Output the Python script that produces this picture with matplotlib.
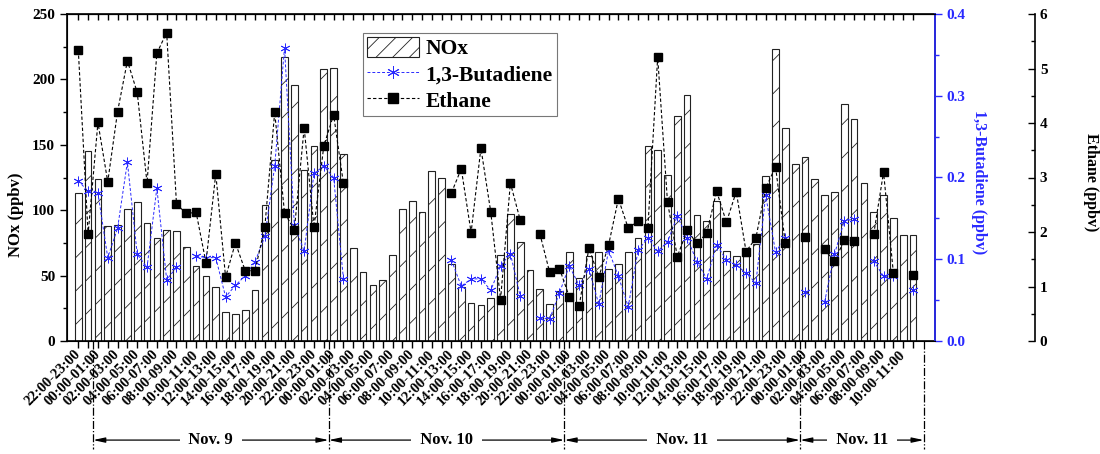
import numpy as np
import matplotlib.pyplot as plt
import matplotlib.transforms as mtransforms
from matplotlib.ticker import MultipleLocator, FormatStrFormatter
from matplotlib.lines import Line2D
from matplotlib.patches import Patch

plt.rcParams['font.family'] = ['Liberation Serif', 'DejaVu Serif']
plt.rcParams['font.weight'] = 'bold'
plt.rcParams['hatch.linewidth'] = 0.6

nan = np.nan

slots = ['00:00-01:00', '02:00-03:00', '04:00-05:00', '06:00-07:00',
         '08:00-09:00', '10:00-11:00', '12:00-13:00', '14:00-15:00',
         '16:00-17:00', '18:00-19:00', '20:00-21:00', '22:00-23:00']
hour_labels = ['22:00-23:00'] + slots * 3 + slots[:6]

nox = [113, 145, 124, 88, 89, 101, 106, 90, 78.5, 85,
       84, 72, 57, 50, 41, 22, 21, 23.5, 39, 104,
       138, 217, 196, 131, 149, 208, 208.5, 143, 71, 53,
       43, 47, 65.5, 101, 107, 99, 130, 125, 59, 41.5,
       29, 27.5, 33, 66, 97, 76, 54, 39.5, 28, 38,
       68, 48, 65, 68, 55, 58.5, 68, 79, 149, 146,
       127, 172, 188, 96, 92, 107, 69, 65, 65, 74,
       126, 223, 162.5, 135, 141, 124, 112, 114, 181, 169.5,
       120.5, 98.5, 112, 94, 81, 81]

butadiene = [.196, .183, .181, .102, .138, .219, .106, .090, .187, .075,
             .090, nan, .104, .102, .102, .054, .068, .080, .097, .128,
             .214, .359, .142, .110, .205, .214, .200, .076, nan, nan,
             nan, nan, nan, nan, nan, nan, nan, nan, .099, .067,
             .076, .076, .062, .092, .107, .055, nan, .028, .027, .059,
             .092, .068, .088, .045, .111, .079, .042, .111, .126, .110,
             .121, .153, .126, .097, .076, .118, .099, .093, .083, .071,
             .178, .109, .126, nan, .060, nan, .048, .106, .147, .149,
             nan, .098, .079, .080, nan, .062]

ethane = [5.34, 1.96, 4.01, 2.92, 4.21, 5.14, 4.56, 2.90, 5.28, 5.66,
          2.51, 2.34, 2.36, 1.44, 3.07, 1.17, 1.80, 1.29, 1.29, 2.10,
          4.20, 2.35, 2.04, 3.91, 2.09, 3.58, 4.15, 2.89, nan, nan,
          nan, nan, nan, nan, nan, nan, nan, nan, 2.72, 3.16,
          1.99, 3.54, 2.37, 0.76, 2.90, 2.22, nan, 1.97, 1.26, 1.33,
          0.81, 0.64, 1.71, 1.17, 1.76, 2.61, 2.07, 2.20, 2.07, 5.21,
          2.55, 1.55, 2.03, 1.79, 1.98, 2.75, 2.18, 2.74, 1.64, 1.89,
          2.80, 3.20, 1.79, nan, 1.91, nan, 1.68, 1.46, 1.85, 1.84,
          nan, 1.96, 3.10, 1.25, nan, 1.21]

day_edges = [1.5, 25.5, 49.5, 73.5, 86.1]
day_names = ['Nov. 9', 'Nov. 10', 'Nov. 11', 'Nov. 11']

x = np.arange(len(nox))
blue = '#2a2aff'

fig = plt.figure(figsize=(11, 4.54), dpi=100)
ax = fig.add_axes([67/1100, 1-341/454, 868/1100, 327/454])

ax.bar(x, nox, width=0.68, color='white', edgecolor='#222222', linewidth=0.8, hatch='/')
ax.set_xlim(-1.15, 87.24)
ax.set_ylim(0, 250)
ax.yaxis.set_major_locator(MultipleLocator(50))
ax.yaxis.set_minor_locator(MultipleLocator(25))
ax.tick_params(axis='y', which='both', direction='out', right=False, labelsize=11, width=1)
ax.tick_params(axis='y', which='major', length=5)
ax.tick_params(axis='y', which='minor', length=3)
ax.set_xticks(x[::2])
ax.set_xticklabels(hour_labels, rotation=45, ha='right', va='center',
                   rotation_mode='anchor', fontsize=10.5)
ax.set_xticks(x[1::2], minor=True)
ax.tick_params(axis='x', which='both', direction='out', length=5, width=1, pad=3)
for s in ax.spines.values():
    s.set_linewidth(1.2)

secax = ax.secondary_xaxis('top')
secax.set_xticks(x)
secax.tick_params(direction='in', length=4, width=1, labeltop=False)

# butadiene axis
ax2 = ax.twinx()
ax2.plot(x, butadiene, ls='--', dashes=(3, 2), color=blue, lw=0.7,
         marker=(6, 2, 0), ms=7, mew=0.6)
ax2.set_ylim(0, 0.4)
ax2.yaxis.set_major_locator(MultipleLocator(0.1))
ax2.yaxis.set_minor_locator(MultipleLocator(0.05))
ax2.yaxis.set_major_formatter(FormatStrFormatter('%.1f'))
ax2.tick_params(axis='y', which='both', direction='out', colors=blue, labelsize=11, width=1)
ax2.tick_params(axis='y', which='major', length=5)
ax2.tick_params(axis='y', which='minor', length=3)
ax2.spines['right'].set_color(blue)
ax2.spines['right'].set_linewidth(1.2)

# ethane axis
ax3 = ax.twinx()
ax3.spines['right'].set_position(('axes', (1035 - 67) / 868))
for k in ['left', 'top', 'bottom']:
    ax3.spines[k].set_visible(False)
ax3.spines['right'].set_linewidth(1.2)
ax3.plot(x, ethane, ls='--', dashes=(3, 2), color='black', lw=0.8,
         marker='s', ms=5.5)
ax3.set_ylim(0, 6)
ax3.yaxis.set_major_locator(MultipleLocator(1))
ax3.yaxis.set_minor_locator(MultipleLocator(0.5))
ax3.tick_params(axis='y', which='both', direction='in', labelsize=11, width=1)
ax3.tick_params(axis='y', which='major', length=5)
ax3.tick_params(axis='y', which='minor', length=3)

fig.text(16/1100, 1-215/454, 'NOx (ppbv)', rotation=90, ha='center', va='center', fontsize=12)
fig.text(979/1100, 1-182/454, '1,3-Butadiene (ppbv)', rotation=270, ha='center', va='center',
         fontsize=11.5, color=blue)
fig.text(1091/1100, 1-182/454, 'Ethane (ppbv)', rotation=270, ha='center', va='center', fontsize=11.5)

# day brackets under the axis
trans = mtransforms.blended_transform_factory(ax.transData, ax.transAxes)
for xe in day_edges:
    ax.plot([xe, xe], [0, -0.33], transform=trans, clip_on=False,
            color='black', ls='-.', lw=0.9)
for a, b, name in zip(day_edges[:-1], day_edges[1:], day_names):
    ax.annotate('', xy=(a, -0.303), xytext=(b, -0.303), xycoords=trans, textcoords=trans,
                arrowprops=dict(arrowstyle='<|-|>,head_length=0.7,head_width=0.15',
                                color='black', lw=0.9, shrinkA=0, shrinkB=0))
    ax.text((a + b) / 2, -0.303, '  ' + name + '  ', transform=trans, ha='center', va='center',
            fontsize=12, bbox=dict(facecolor='white', edgecolor='none', pad=0.5))

handles = [Patch(facecolor='white', edgecolor='#222222', hatch='//', lw=0.8),
           Line2D([], [], ls='--', dashes=(3, 2), color=blue, lw=0.7, marker=(6, 2, 0), ms=9, mew=0.7),
           Line2D([], [], ls='--', dashes=(3, 2), color='black', lw=0.8, marker='s', ms=7)]
leg = ax3.legend(handles, ['NOx', '1,3-Butadiene', 'Ethane'], loc='upper left',
                 bbox_to_anchor=(0.341, 0.942), borderaxespad=0, fontsize=15.5,
                 fancybox=False, edgecolor='#777777', framealpha=1,
                 handlelength=2.4, handleheight=1.0, handletextpad=0.3,
                 labelspacing=0.2, borderpad=0.2)
leg.get_frame().set_linewidth(0.8)

fig.savefig('out.png', dpi=100)
